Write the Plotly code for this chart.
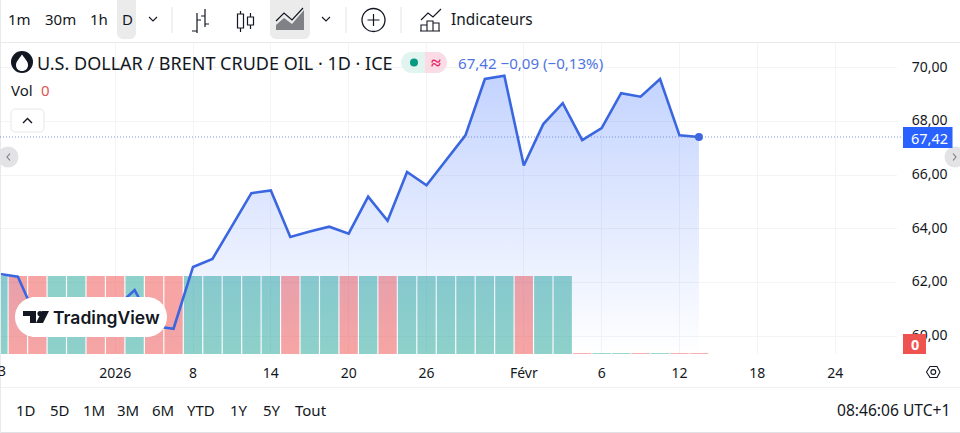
import plotly.graph_objects as go

dates = ["2025-12-23","2025-12-24","2025-12-26","2025-12-29","2025-12-30","2025-12-31","2026-01-02",
         "2026-01-05","2026-01-06","2026-01-07","2026-01-08","2026-01-09","2026-01-12","2026-01-13",
         "2026-01-14","2026-01-15","2026-01-16","2026-01-19","2026-01-20","2026-01-21","2026-01-22",
         "2026-01-23","2026-01-26","2026-01-27","2026-01-28","2026-01-29","2026-01-30","2026-02-02",
         "2026-02-03","2026-02-04","2026-02-05","2026-02-06","2026-02-09","2026-02-10","2026-02-11",
         "2026-02-12","2026-02-13"]
future_dates = ["2026-02-16","2026-02-17","2026-02-18","2026-02-19","2026-02-20","2026-02-23",
                "2026-02-24","2026-02-25","2026-02-26","2026-02-27","2026-03-02"]
prices = [62.33,62.22,60.60,60.55,60.50,60.45,61.05,61.72,60.38,60.28,62.58,62.88,64.10,65.33,
          65.43,63.70,63.90,64.08,63.82,65.20,64.30,66.12,65.62,66.55,67.48,69.58,69.70,66.36,
          67.90,68.68,67.30,67.75,69.05,68.92,69.58,67.48,67.42]
volumes = [1,1,1,1,1,1,1,1,1,1,1,1,1,1,1,1,1,1,1,1,1,1,1,1,1,1,1,1,1,1,0,0,0,0,0,0,0]
bar_up = [1,0,0,1,1,0,0,1,0,0,1,1,1,1,1,0,1,1,0,1,0,1,1,1,1,1,1,0,1,1,0,1,1,0,1,0,0]
tick_dates = ["2026-01-02","2026-01-08","2026-01-14","2026-01-20","2026-01-26","2026-02-02",
              "2026-02-06","2026-02-12","2026-02-18","2026-02-24"]
tick_labels = ["2026","8","14","20","26","Févr","6","12","18","24"]
price_ticks = [60,62,64,66,68,70]
range_buttons = [("1D",26),("5D",60),("1M",94),("3M",128),("6M",163),("YTD",201),("1Y",239),("5Y",272),("Tout",311)]

FONT = "Noto Sans"
INK = "#131722"
BLUE = "#2962ff"
LINE = "#3a66e0"
W, H = 960, 433
L, R, T, B = 0, 897, 43, 354

def X(p): return (p - L) / (R - L)
def Y(p): return (B - p) / (B - T)

shapes, annos = [], []
def path(d, color=None, fill=None, width=1.2):
    out = []
    for tok in d.split():
        if "," in tok:
            a, b = tok.split(",")
            out.append(f"{X(float(a)):.5f},{Y(float(b)):.5f}")
        else:
            out.append(tok)
    shapes.append(dict(type="path", xref="paper", yref="paper", path=" ".join(out), layer="above",
                       line=dict(color=color or "rgba(0,0,0,0)", width=width if color else 0),
                       fillcolor=fill or "rgba(0,0,0,0)"))
def rect(x0, y0, x1, y1, fill=None, color=None, width=1):
    shapes.append(dict(type="rect", xref="paper", yref="paper", x0=X(x0), x1=X(x1), y0=Y(y0), y1=Y(y1), layer="above",
                       line=dict(color=color or "rgba(0,0,0,0)", width=width if color else 0),
                       fillcolor=fill or "rgba(0,0,0,0)"))
def rrect(x0, y0, x1, y1, r, fill, color=None):
    k = r * 0.45
    d = (f"M {x0+r},{y0} L {x1-r},{y0} C {x1-k},{y0} {x1},{y0+k} {x1},{y0+r} L {x1},{y1-r} "
         f"C {x1},{y1-k} {x1-k},{y1} {x1-r},{y1} L {x0+r},{y1} C {x0+k},{y1} {x0},{y1-k} {x0},{y1-r} "
         f"L {x0},{y0+r} C {x0},{y0+k} {x0+k},{y0} {x0+r},{y0} Z")
    path(d, color=color, fill=fill, width=1)
def circle(cx, cy, r, fill=None, color=None, width=1.2):
    shapes.append(dict(type="circle", xref="paper", yref="paper", x0=X(cx-r), x1=X(cx+r), y0=Y(cy+r), y1=Y(cy-r), layer="above",
                       line=dict(color=color or "rgba(0,0,0,0)", width=width if color else 0),
                       fillcolor=fill or "rgba(0,0,0,0)"))
def text(s, x, y, size=14, color=INK, anchor="center", family=FONT, bold=False):
    annos.append(dict(text=f"<b>{s}</b>" if bold else s, xref="paper", yref="paper", x=X(x), y=Y(y), showarrow=False,
                      xanchor=anchor, yanchor="middle", font=dict(size=size, color=color, family=family),
                      borderpad=0, borderwidth=0))

# frame of the widget
rect(-1, 0, W+1, 42, fill="#ffffff")
path("M 0,42.5 L 960,42.5", color="#e8e9ec", width=1)
rect(-1, 388, W+1, 433, fill="#ffffff")
path("M 0,387.5 L 960,387.5", color="#f0f1f3", width=1)
path("M 0,432.5 L 960,432.5", color="#e0e1e4", width=1)
path("M 0.5,0 L 0.5,433", color="#e8e9ec", width=1)

# top toolbar
rrect(117, -4, 136, 39, 6, "#ebebeb")
rrect(270, -4, 310, 39, 6, "#ebebeb")
for s, x in [("1m", 19), ("30m", 60), ("1h", 99), ("D", 127)]:
    text(s, x, 19, 15)
for x in (172, 346, 401):
    path(f"M {x},7 L {x},33", color="#e3e4e7", width=1)
for x in (153, 326):
    path(f"M {x-4},17 L {x},21 L {x+4},17", color=INK, width=1.1)
# bars icon
path("M 197,13 L 197,33 M 192,31 L 197,31 M 197,20 L 201,20 M 205,9 L 205,27 M 201,16 L 205,16 M 205,24 L 209,24", color=INK)
# candles icon
path("M 240.5,11 L 240.5,32 M 250.5,13 L 250.5,29", color=INK)
rect(237.5, 14, 243.5, 28, fill="#ffffff", color=INK, width=1.2)
rect(247.5, 17, 253.5, 25, fill="#ffffff", color=INK, width=1.2)
# area icon
path("M 276,25 L 284,18 L 292,24 L 304,10 L 304,30 L 276,30 Z", fill="#7f8187")
path("M 276,21 L 284,13 L 292,20 L 303,8", color=INK)
# plus
circle(373.5, 20, 11.5, color=INK, width=1.3)
path("M 373.5,14 L 373.5,26 M 367.5,20 L 379.5,20", color=INK, width=1.2)
# indicators icon
path("M 421,20 L 428,13 L 433,17 L 441,9 M 421,31 L 421,25 L 427,25 L 427,31 M 427,31 L 427,21 L 433,21 L 433,31 M 433,31 L 433,23 L 439,23 L 439,31 M 420,31 L 440,31", color=INK, width=1.1)
text("Indicateurs", 451, 19, 15.4, anchor="left")

# legend row
circle(22, 62, 11, fill="#131722")
path("M 22,54.5 C 26,60 28,62 28,65 C 28,73 16,73 16,65 C 16,62 18,60 22,54.5 Z", fill="#ffffff")
text("U.S. DOLLAR / BRENT CRUDE OIL · 1D · ICE", 37, 63, 18, anchor="left")
rrect(401, 52, 447, 73, 10.5, "#e2f4f0")
path("M 425,52 L 436.5,52 C 442,52 447,57 447,62.5 C 447,68 442,73 436.5,73 L 425,73 Z", fill="#fbdbe6")
circle(414, 62.5, 4, fill="#089981")
text("≈", 436, 62, 18, color="#e91e63", bold=True)
text(f"{prices[-1]:.2f}".replace(".", ",") + " −0,09 (−0,13%)", 458, 63, 15.1, color="#4f74e3", anchor="left")
text("Vol", 11, 90, 15, anchor="left")
text(str(volumes[-1]), 41, 90, 15, color="#e05555", anchor="left")
rrect(11, 109, 44, 132, 4, "#ffffff", color="#e6e7ea")
path("M 23,123 L 27.5,118.5 L 32,123", color=INK, width=1.4)

# nav buttons
circle(8, 157, 10.5, fill="#e3e3e5")
path("M 10,153.5 L 7,157 L 10,160.5", color="#777a80", width=1.1)
circle(955, 157, 10.5, fill="#e3e3e5")
path("M 953,153.5 L 956,157 L 953,160.5", color="#777a80", width=1.1)

# watermark logo
rrect(15, 297, 167, 337, 20, "#ffffff")
path("M 23,311 L 36,311 L 36,323 L 30,323 L 30,316 L 23,316 Z", fill="#131722")
circle(40, 313.5, 2.6, fill="#131722")
path("M 42,311 L 49,311 L 43,323 L 36,323 Z", fill="#131722")
text("TradingView", 53, 317, 17.5, anchor="left", family="Inter")
annos[-1]["font"]["weight"] = 600

# price and volume badges
rect(903, 127, 952.5, 148, fill=BLUE)
text(f"{prices[-1]:.2f}".replace(".", ","), 929.5, 137.5, 14.5, color="#ffffff")
rect(903, 334, 926, 354, fill="#ef5350")
text(str(volumes[-1]), 915, 344, 14.5, color="#ffffff", bold=True)

# time axis extras
text("23", -1.6, 371, 14)
path("M 926.5,372 L 930,366.5 L 937,366.5 L 940,372 L 937,377.5 L 930,377.5 Z", color=INK, width=1.1)
circle(933.3, 372, 2.4, color=INK, width=1.1)

# range bar
for s, x in range_buttons:
    text(s, x, 410, 15)
text("08:46:06 UTC+1", 950, 410, 15.6, anchor="right")

# last price dotted line
shapes.append(dict(type="line", xref="paper", yref="y2", x0=0, x1=X(903), y0=prices[-1], y1=prices[-1], layer="above",
                   line=dict(color="#5f7fd0", width=0.8, dash="1px,2px")))

cats = dates + future_dates
colors = ["rgba(38,166,154,0.52)" if u else "rgba(239,83,80,0.52)" for u in bar_up]
line_w = [0 if v else 1 for v in volumes]

fig = go.Figure()
fig.add_bar(x=dates, y=volumes, yaxis="y", marker=dict(color=colors, line=dict(width=line_w, color=colors)),
            hoverinfo="skip", showlegend=False)
fig.add_scatter(x=dates, y=prices, yaxis="y2", mode="lines", line=dict(color=LINE, width=2.6),
                fill="tozeroy", fillgradient=dict(type="vertical", start=69.8, stop=59.34,
                    colorscale=[[0, "rgba(41,98,255,0.28)"], [1, "rgba(41,98,255,0)"]]),
                hoverinfo="skip", showlegend=False)
fig.add_scatter(x=[dates[-1]], y=[prices[-1]], yaxis="y2", mode="markers",
                marker=dict(color=LINE, size=8), hoverinfo="skip", showlegend=False)

i0 = 10 - 193 / 19.46
fig.update_layout(
    width=W, height=H, margin=dict(l=L, r=W-R, t=T, b=H-B), autosize=False,
    paper_bgcolor="#ffffff", plot_bgcolor="#ffffff", separators=", ",
    font=dict(family=FONT, color=INK, size=14), bargap=0.06, showlegend=False,
    xaxis=dict(type="category", categoryorder="array", categoryarray=cats,
               range=[i0, i0 + 897 / 19.46], tickmode="array", tickvals=tick_dates, ticktext=tick_labels,
               showgrid=True, gridcolor="#f3f4f6", gridwidth=1, zeroline=False, showline=False,
               ticks="outside", ticklen=6, tickcolor="rgba(0,0,0,0)", tickangle=0,
               tickfont=dict(size=14, color=INK)),
    yaxis=dict(range=[0, 311/78], showticklabels=False, showgrid=False, zeroline=False, ticks=""),
    yaxis2=dict(overlaying="y", side="right", range=[59.34, 70.92], tickmode="array", tickvals=price_ticks,
                tickformat=".2f", showgrid=True, gridcolor="#f3f4f6", gridwidth=1, zeroline=False, showline=False,
                ticks="outside", ticklen=11, tickcolor="rgba(0,0,0,0)", ticklabelshift=-1,
                tickfont=dict(size=14, color=INK)),
    shapes=shapes, annotations=annos,
)
fig.write_html("out.html", config=dict(displayModeBar=False),
               post_script="document.body.style.margin='0';document.body.style.overflow='hidden';")
